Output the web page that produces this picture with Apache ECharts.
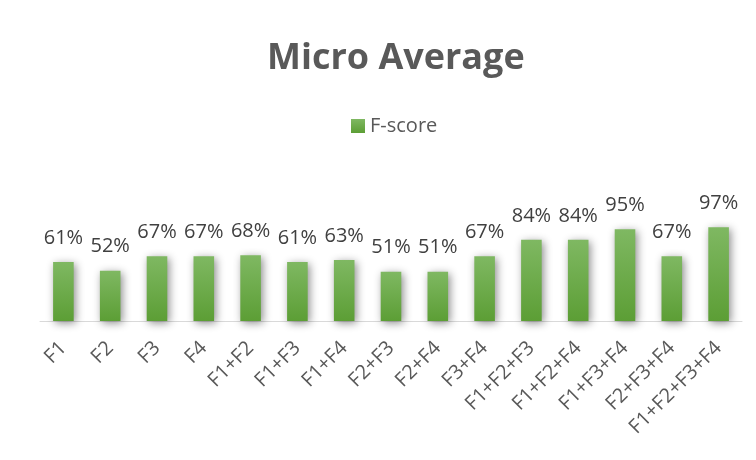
<!DOCTYPE html>
<html>
<head>
<meta charset="utf-8">
<script src="https://cdn.jsdelivr.net/npm/echarts@6/dist/echarts.min.js"></script>
<style>
  html, body { margin: 0; padding: 0; background: #fff; }
  #main { width: 756px; height: 460px; }
</style>
</head>
<body>
<div id="main"></div>
<script>
// categories and values
var categories = ['F1', 'F2', 'F3', 'F4', 'F1+F2', 'F1+F3', 'F1+F4', 'F2+F3', 'F2+F4',
  'F3+F4', 'F1+F2+F3', 'F1+F2+F4', 'F1+F3+F4', 'F2+F3+F4', 'F1+F2+F3+F4'];
var fscore = [0.61, 0.52, 0.67, 0.67, 0.68, 0.61, 0.63, 0.51, 0.51, 0.67, 0.84, 0.84, 0.95, 0.67, 0.97];

var myChart = echarts.init(document.getElementById('main'));

var option = {
  animation: false,
  textStyle: { fontFamily: 'Open Sans' },
  title: {
    text: 'Micro Average',
    left: 262,
    top: 36,
    textStyle: { fontSize: 36, fontWeight: 'bold', color: '#595959', fontFamily: 'Open Sans' }
  },
  legend: {
    data: ['F-score'],
    top: 111,
    left: 346,
    icon: 'rect',
    itemWidth: 14,
    itemHeight: 14,
    itemGap: 5,
    textStyle: { fontSize: 20, color: '#595959' }
  },
  grid: { left: 40, right: 14, top: 205, bottom: 139 },
  xAxis: {
    type: 'category',
    data: categories,
    axisLine: { lineStyle: { color: '#d9d9d9', width: 1 } },
    axisTick: { show: false },
    axisLabel: { rotate: 45, fontSize: 20, color: '#595959', margin: 24, interval: 0 }
  },
  yAxis: {
    type: 'value',
    min: 0,
    max: 1.2,
    show: false,
    splitLine: { show: false }
  },
  series: [{
    name: 'F-score',
    type: 'bar',
    data: fscore,
    barWidth: '44%',
    itemStyle: {
      color: new echarts.graphic.LinearGradient(0, 0, 0, 1, [
        { offset: 0, color: '#7fb862' },
        { offset: 1, color: '#5c9e35' }
      ]),
      shadowColor: 'rgba(0,0,0,0.45)',
      shadowBlur: 8,
      shadowOffsetX: 2,
      shadowOffsetY: 2
    },
    label: {
      show: true,
      position: 'top',
      distance: 14,
      fontSize: 20,
      color: '#404040',
      formatter: function (p) { return Math.round(p.value * 100) + '%'; }
    }
  }]
};

option && myChart.setOption(option);
</script>
</body>
</html>
